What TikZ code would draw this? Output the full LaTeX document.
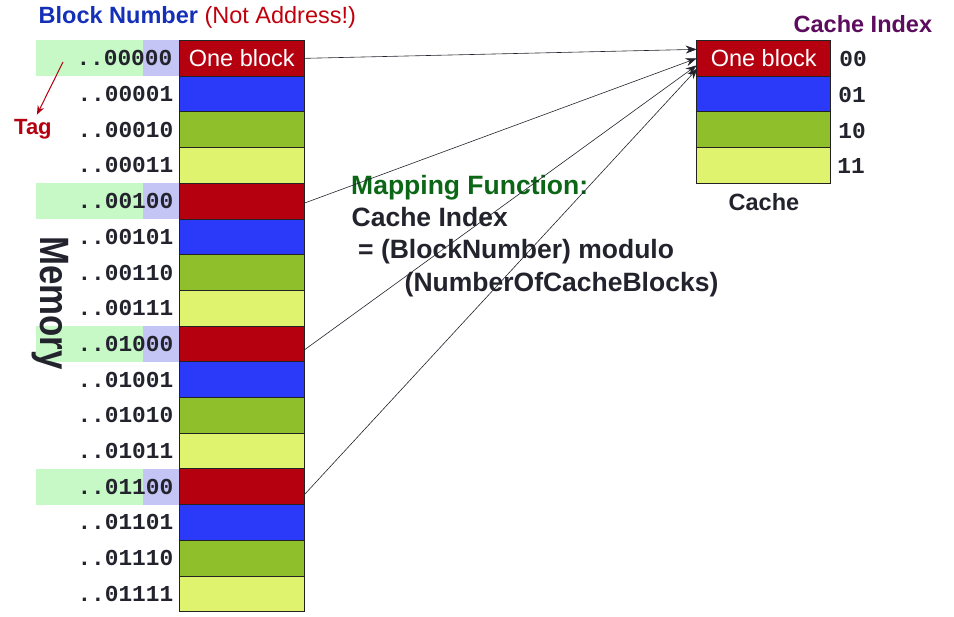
\documentclass[tikz,border=0pt]{standalone}
\usepackage{fontspec}
\setmainfont{Liberation Sans}
\newfontfamily\monofont{Liberation Mono}
\usetikzlibrary{arrows.meta}
\definecolor{rowred}{HTML}{B4000F}
\definecolor{rowblue}{HTML}{2B3AF8}
\definecolor{rowgreen}{HTML}{8FC02B}
\definecolor{rowyellow}{HTML}{DFF36F}
\definecolor{hlgreen}{HTML}{C6F9C6}
\definecolor{hlviolet}{HTML}{C5C5F5}
\definecolor{edge}{HTML}{222222}
\definecolor{ink}{HTML}{23232D}
\definecolor{bnblue}{HTML}{1530B8}
\definecolor{notred}{HTML}{C0000C}
\definecolor{ciplum}{HTML}{5C0B5E}
\definecolor{mapgreen}{HTML}{0B6616}
\begin{document}
\begin{tikzpicture}[x=1pt,y=-1pt,
  cell/.style={draw=edge,line width=0.9pt,minimum width=125pt,minimum height=35.7pt,inner sep=0pt,outer sep=0pt},
  ccell/.style={cell,minimum width=134pt},
  celltext/.style={text=white,font=\fontsize{23.5}{26}\selectfont},
  addr/.style={anchor=east,inner sep=0pt,text=ink,font=\monofont\bfseries\fontsize{22.8}{24}\selectfont},
  idx/.style={anchor=center,inner sep=0pt,text=ink,font=\monofont\bfseries\fontsize{22.8}{24}\selectfont},
  lbl/.style={anchor=base west,inner sep=0pt,font=\bfseries\fontsize{23.5}{26}\selectfont},
  maptext/.style={anchor=base west,inner sep=0pt,text=ink,font=\bfseries\fontsize{26.5}{30}\selectfont},
  link/.style={draw=ink,line width=0.6pt,-{Stealth[length=11pt,width=8pt]}},
  tagarrow/.style={draw=rowred,line width=1pt,-{Stealth[length=9pt,width=7pt]}},
]
\fill[white] (0,0) rectangle (954,617);
\useasboundingbox (0,0) rectangle (954,617);

% highlighted address fields (tag | index)
\foreach \i in {0,4,8,12}{
  \fill[hlgreen] (36,{40.5+35.7*\i}) rectangle (143.3,{76.2+35.7*\i});
  \fill[hlviolet] (143.3,{40.5+35.7*\i}) rectangle (179.3,{76.2+35.7*\i});
}

% memory blocks
\node[cell,fill=rowred,celltext] (m0) at (241.8,58.35) {One block};
\node[addr] (a0) at (172.5,58.35) {..00000};
\foreach \i/\c/\a in {1/rowblue/00001,2/rowgreen/00010,3/rowyellow/00011,
  4/rowred/00100,5/rowblue/00101,6/rowgreen/00110,7/rowyellow/00111,
  8/rowred/01000,9/rowblue/01001,10/rowgreen/01010,11/rowyellow/01011,
  12/rowred/01100,13/rowblue/01101,14/rowgreen/01110,15/rowyellow/01111}{
  \node[cell,fill=\c] (m\i) at (241.8,{58.35+35.7*\i}) {};
  \node[addr] (a\i) at (173.5,{58.35+35.7*\i}) {..\a};
}

% cache blocks
\node[ccell,fill=rowred,celltext] (c0) at (763.7,58.35) {One block};
\node[ccell,fill=rowblue] (c1) at (763.7,94.05) {};
\node[ccell,fill=rowgreen] (c2) at (763.7,129.75) {};
\node[ccell,fill=rowyellow] (c3) at (763.7,165.45) {};
\node[idx] (i0) at (853,59) {00};
\node[idx] (i1) at (852,95) {01};
\node[idx] (i2) at (852,130.5) {10};
\node[idx] (i3) at (851,166) {11};

% labels
\node[lbl,text=bnblue] (bn) at (38.5,24) {Block Number \textcolor{notred}{\mdseries(Not Address!)}};
\node[lbl,text=ciplum] (ci) at (793.5,32.5) {Cache Index};
\node[lbl,text=ink] (cachelbl) at (728.5,211) {Cache};
\node[lbl,text=rowred,font=\bfseries\fontsize{22}{24}\selectfont] (tag) at (14,135) {Tag};
\node[rotate=-90,inner sep=0pt,text=ink,font=\bfseries\fontsize{41}{44}\selectfont] (mem) at (50,303) {\scalebox{0.85}[1]{Memory}};

% mapping function
\node[maptext,text=mapgreen] (mf1) at (351,195) {Mapping Function:};
\node[maptext] (mf2) at (351.5,226.7) {Cache Index};
\node[maptext] (mf3) at (358,259) {= (BlockNumber) modulo};
\node[maptext] (mf4) at (404.5,291.7) {(NumberOfCacheBlocks)};

% tag arrow
\coordinate (tagtail) at (63,62);
\draw[tagarrow] (tagtail) -- ([xshift=4pt,yshift=5pt]tag.north);

% mapping arrows
\draw[link] (m0.east) -- ([yshift=9pt]c0.west);
\draw[link] ([yshift=-2pt]m4.east) -- (c0.west);
\draw[link] ([yshift=-6pt]m8.east) -- ([yshift=-7pt]c0.west);
\draw[link] ([yshift=-8pt]m12.east) -- ([yshift=-10pt,xshift=1pt]c0.west);
\end{tikzpicture}
\end{document}
